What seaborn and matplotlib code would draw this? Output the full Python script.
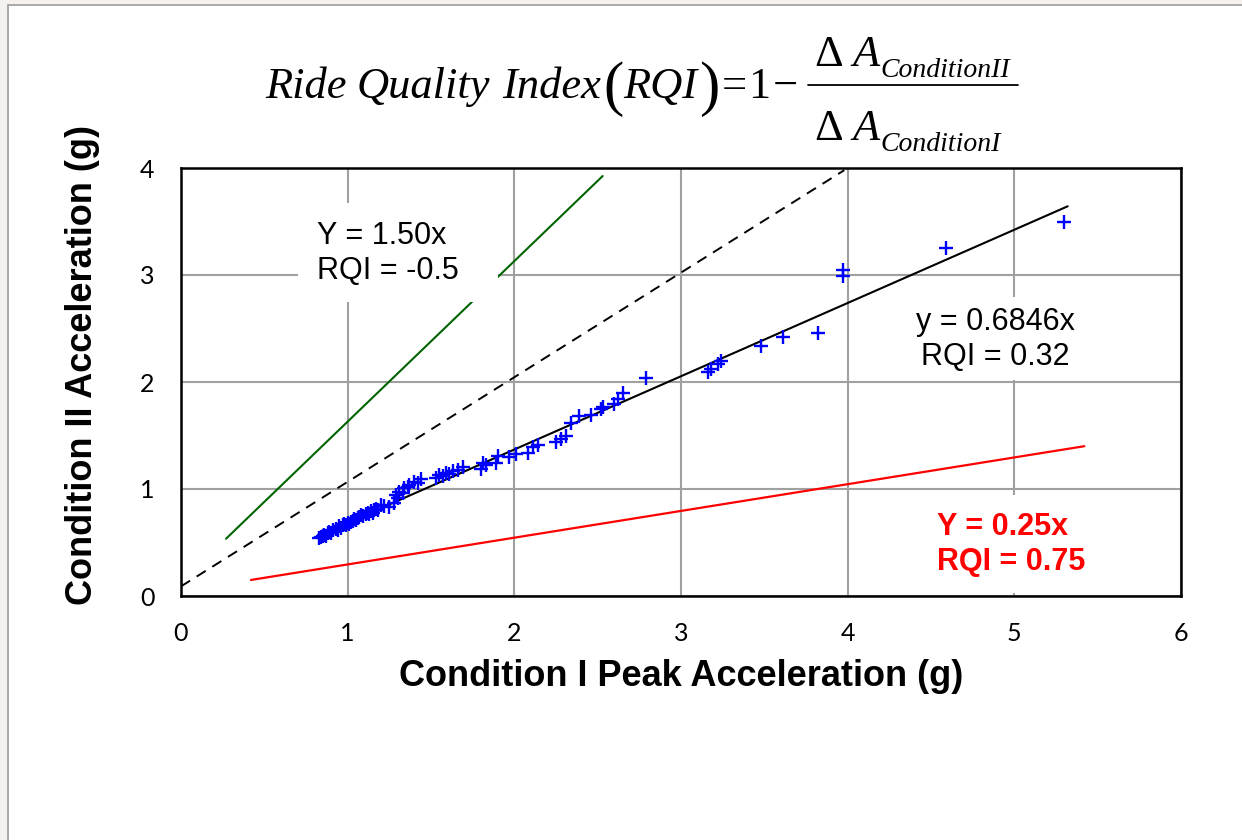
import matplotlib
matplotlib.use("Agg")
import matplotlib.pyplot as plt
from matplotlib.patches import Rectangle
from matplotlib.lines import Line2D
import seaborn as sns

# Peak accelerations (g) for each event
cond1_peak = [0.83, 0.84, 0.85, 0.86, 0.87, 0.88, 0.89, 0.90, 0.91, 0.93,
              0.94, 0.95, 0.96, 0.97, 0.98, 0.99, 1.00, 1.01, 1.02, 1.03,
              1.04, 1.05, 1.06, 1.07, 1.08, 1.09, 1.11, 1.12, 1.13, 1.14,
              1.15, 1.16, 1.17, 1.18, 1.20, 1.22, 1.25, 1.28, 1.29, 1.30,
              1.31, 1.33, 1.34, 1.36, 1.37, 1.40, 1.42, 1.44, 1.53, 1.55,
              1.57, 1.59, 1.61, 1.63, 1.66, 1.69, 1.80, 1.81, 1.83, 1.89,
              1.90, 1.97, 2.01, 2.08, 2.11, 2.14, 2.25, 2.28, 2.31, 2.34,
              2.39, 2.46, 2.52, 2.53, 2.60, 2.62, 2.65, 2.79, 3.16, 3.18,
              3.22, 3.24, 3.48, 3.61, 3.82, 3.97, 3.97, 4.59, 5.30]
cond2_peak = [0.54, 0.55, 0.56, 0.57, 0.56, 0.59, 0.60, 0.59, 0.62, 0.63,
              0.62, 0.65, 0.64, 0.66, 0.67, 0.66, 0.68, 0.67, 0.69, 0.70,
              0.72, 0.71, 0.73, 0.74, 0.76, 0.75, 0.77, 0.78, 0.77, 0.79,
              0.78, 0.80, 0.81, 0.80, 0.85, 0.84, 0.83, 0.87, 0.94, 0.92,
              0.97, 0.96, 1.01, 1.02, 1.04, 1.07, 1.06, 1.09, 1.10, 1.13,
              1.12, 1.15, 1.14, 1.17, 1.18, 1.21, 1.19, 1.24, 1.22, 1.24,
              1.31, 1.30, 1.33, 1.34, 1.39, 1.41, 1.44, 1.47, 1.50, 1.62,
              1.68, 1.69, 1.75, 1.77, 1.79, 1.84, 1.90, 2.04, 2.09, 2.12,
              2.17, 2.20, 2.34, 2.42, 2.46, 2.99, 3.05, 3.25, 3.50]

# Regression through the origin and the two reference ratios
fit_slope = 0.6846
fit_range = [0.84, 5.32]
upper_slope, upper_offset = 1.50, 0.13
upper_range = [0.27, 2.53]
lower_slope, lower_offset = 0.25, 0.045
lower_range = [0.42, 5.42]
unity_x = [0.0, 3.98]
unity_y = [0.09, 3.98]

x_ticks = [0, 1, 2, 3, 4, 5, 6]
y_ticks = [0, 1, 2, 3, 4]

sns.set_theme(style="white")
plt.rcParams["font.family"] = ["Liberation Sans", "DejaVu Sans"]
for key in ["text.color", "axes.labelcolor", "xtick.color", "ytick.color"]:
    plt.rcParams[key] = "black"

W, H = 1242, 840
fig = plt.figure(figsize=(W / 100, H / 100), dpi=100)
fig.patch.set_facecolor("#f4f1ee")
fig.patches.append(Rectangle((8 / W, -0.01), 1.0, 1.01 - 5 / H,
                             transform=fig.transFigure, facecolor="white",
                             edgecolor="#a3a3a3", lw=1.3, zorder=-5))

ax = fig.add_axes([181 / W, 1 - 596 / H, 1000 / W, 428 / H])
ax.set_facecolor("white")

# data cloud
sns.scatterplot(x=cond1_peak, y=cond2_peak, marker="+", s=115,
                color="#0000ff", linewidth=1.7, ax=ax, zorder=6)

# fitted line
fx = fit_range
sns.lineplot(x=fx, y=[fit_slope * v for v in fx], color="black",
             lw=1.5, ax=ax, zorder=5)
# 1:1 line
sns.lineplot(x=unity_x, y=unity_y, color="black", lw=1.4,
             linestyle=(0, (5.5, 4)), ax=ax, zorder=5)
# reference ratios
gx = upper_range
sns.lineplot(x=gx, y=[upper_slope * v + upper_offset for v in gx],
             color="#006400", lw=1.5, ax=ax, zorder=2)
rx = lower_range
sns.lineplot(x=rx, y=[lower_slope * v + lower_offset for v in rx],
             color="#ff0000", lw=1.6, ax=ax, zorder=5)

# white label panels
for (x0, x1, y0, y1) in [(0.70, 1.90, 2.75, 3.67),
                         (4.31, 5.45, 2.02, 2.79),
                         (4.46, 5.51, 0.03, 0.94)]:
    ax.add_patch(Rectangle((x0, y0), x1 - x0, y1 - y0, facecolor="white",
                           edgecolor="none", zorder=3))

ax.text(0.816, 3.20, "Y = 1.50x\nRQI = -0.5", ha="left", va="center",
        fontsize=22, zorder=4, linespacing=1.2)
ax.text(4.884, 2.40, "y = 0.6846x\nRQI = 0.32", ha="center", va="center",
        multialignment="center", fontsize=22, zorder=4, linespacing=1.2)
ax.text(4.536, 0.48, "Y = 0.25x\nRQI = 0.75", ha="left", va="center",
        fontsize=22, fontweight="bold", color="#ff0000", zorder=4,
        linespacing=1.2)

ax.set_xlim(0, 6)
ax.set_ylim(0, 4)
ax.set_xticks(x_ticks)
ax.set_yticks(y_ticks)
ax.set_xticklabels([str(v) for v in x_ticks], fontsize=18, family="Lato")
ax.set_yticklabels([str(v) for v in y_ticks], fontsize=18, family="Lato")
ax.tick_params(axis="x", length=0, pad=19)
ax.tick_params(axis="y", length=0, pad=19)
ax.grid(True, color="#a0a0a0", lw=1.5)
ax.set_axisbelow(True)
for sp in ax.spines.values():
    sp.set_color("black")
    sp.set_linewidth(1.8)
    sp.set_visible(True)

fig.text(681 / W, 1 - 677 / H, "Condition I Peak Acceleration (g)",
         ha="center", va="center", fontsize=26, fontweight="bold")
fig.text(83 / W, 1 - 365 / H, "Condition II Acceleration (g)",
         ha="center", va="center", rotation=90, fontsize=26,
         fontweight="bold")

# ---- equation heading, laid out piece by piece (pixel coordinates) ----
renderer = fig.canvas.get_renderer()
SERIF = "Liberation Serif"


def put(s, x, y, size, style="normal"):
    t = fig.text(x / W, 1 - y / H, s, ha="left", va="baseline",
                 fontsize=size, family=SERIF, style=style)
    bb = t.get_window_extent(renderer)
    return bb.x1


x = 265
x = put("Ride", x, 98, 32, "italic") + 10
x = put("Quality", x, 98, 32, "italic") + 12
x = put("Index", x, 98, 32, "italic") + 2
x = put("(", x, 104, 44)
x = put("RQI", x, 98, 32, "italic") + 2
x = put(")", x, 104, 44) + 2
x = put("=", x, 98, 32) + 2
x = put("1", x, 98, 32) + 2
x = put("\u2212", x, 98, 32) + 10
frac_left = x
xn = put("\u0394", frac_left + 6, 66, 32) + 10
xn = put("A", xn, 66, 32, "italic") + 1
xn = put("ConditionII", xn, 77, 20, "italic")
xd = put("\u0394", frac_left + 6, 140, 32) + 10
xd = put("A", xd, 140, 32, "italic") + 1
xd = put("ConditionI", xd, 151, 20, "italic")
frac_right = max(xn, xd) + 8
fig.add_artist(Line2D([frac_left / W, frac_right / W],
                      [1 - 85 / H, 1 - 85 / H], color="black", lw=1.3,
                      transform=fig.transFigure))

fig.savefig("out.png", dpi=100, facecolor=fig.get_facecolor())
